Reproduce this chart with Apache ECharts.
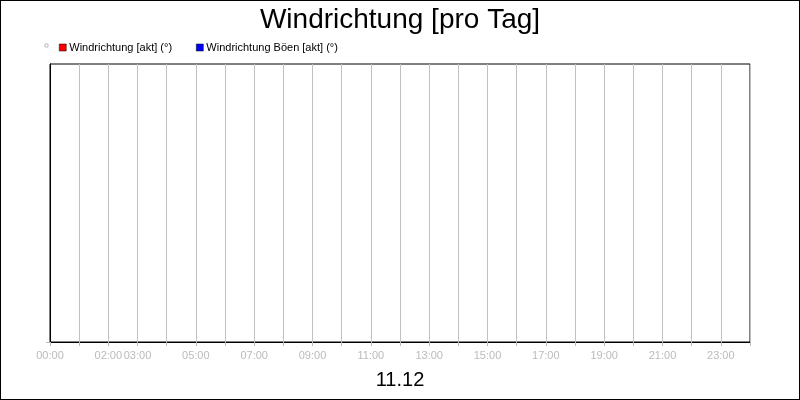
<!DOCTYPE html>
<html>
<head>
<meta charset="utf-8">
<script src="https://cdn.jsdelivr.net/npm/echarts@6/dist/echarts.min.js"></script>
<style>
html,body{margin:0;padding:0;background:#fff;}
#frame{width:800px;height:400px;box-sizing:border-box;border:1px solid #000;position:relative;}
#chart{position:absolute;left:-1px;top:-1px;width:800px;height:400px;}
</style>
</head>
<body>
<div id="frame"><div id="chart"></div></div>
<script>
const titleText = 'Windrichtung [pro Tag]';
const dateLabel = '11.12';
const seriesNames = ['Windrichtung [akt] (°)', 'Windrichtung Böen [akt] (°)'];
const seriesColors = ['#ff0000', '#0000ff'];
const windDir = [];      // no data in the reference
const windDirGust = [];  // no data in the reference
const tickLabels = ['00:00','02:00','03:00','05:00','07:00','09:00','11:00','13:00','15:00','17:00','19:00','21:00','23:00'];

function fmtHour(v){ return (v < 10 ? '0' : '') + v + ':00'; }

const chart = echarts.init(document.getElementById('chart'), null, {renderer:'canvas'});
chart.setOption({
  animation:false,
  textStyle:{fontFamily:'Liberation Sans, Arial, sans-serif'},
  title:{
    text:titleText, left:'center', top:1,
    textStyle:{fontSize:28, fontWeight:'normal', color:'#000', fontFamily:'Liberation Sans, Arial, sans-serif'}
  },
  legend:{
    left:54, top:37, itemWidth:7, itemHeight:7, itemGap:24, icon:'rect',
    textStyle:{fontSize:11, color:'#000', padding:[0,0,0,-2]},
    data:seriesNames.map((n,i)=>({name:n, itemStyle:{color:seriesColors[i], borderColor:'#000', borderWidth:0.5}}))
  },
  graphic:[{type:'rect', shape:{x:45, y:44, width:3, height:3}, style:{fill:'#fff', stroke:'#bbb', lineWidth:1}}],
  grid:{left:50, right:50, top:64, bottom:58, show:true, borderColor:'#000', borderWidth:1},
  xAxis:{
    type:'value', min:0, max:24, interval:1,
    name:dateLabel, nameLocation:'middle', nameGap:28,
    nameTextStyle:{fontSize:20, color:'#000'},
    axisLine:{show:true, lineStyle:{color:'#000', width:1}},
    axisTick:{show:true, length:4, lineStyle:{color:'#bbb'}},
    axisLabel:{
      fontSize:11, color:'#bbb', margin:8, showMinLabel:true, showMaxLabel:true,
      formatter:function(v){ const s = fmtHour(v); return tickLabels.indexOf(s) >= 0 ? s : ''; }
    },
    splitLine:{show:true, lineStyle:{color:'#c0c0c0', width:1}}
  },
  yAxis:{
    type:'value', min:0, max:360,
    axisLine:{show:true, lineStyle:{color:'#000'}},
    axisTick:{show:true, length:4, customValues:[0], lineStyle:{color:'#bbb'}},
    axisLabel:{show:false},
    splitLine:{show:false}
  },
  series:[
    {name:seriesNames[0], type:'line', data:windDir, color:seriesColors[0], showSymbol:false},
    {name:seriesNames[1], type:'line', data:windDirGust, color:seriesColors[1], showSymbol:false}
  ]
});
</script>
</body>
</html>
